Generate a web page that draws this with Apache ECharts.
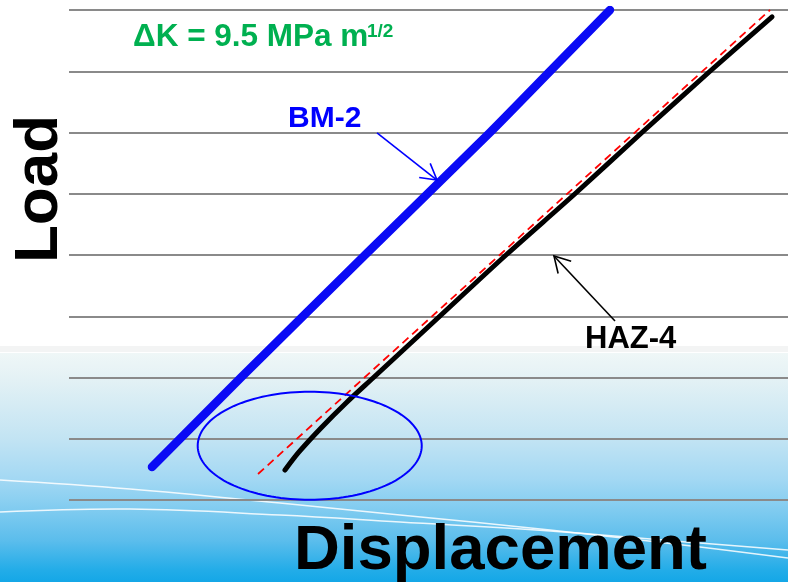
<!DOCTYPE html>
<html>
<head>
<meta charset="utf-8">
<script src="https://cdn.jsdelivr.net/npm/echarts@6/dist/echarts.min.js"></script>
<style>
  html, body { margin: 0; padding: 0; background: #ffffff; }
  #chart { width: 788px; height: 582px; }
</style>
</head>
<body>
<div id="chart"></div>
<script>
// Load–displacement records (arbitrary units: displacement 0–10, load 0–8)
const bmDisp  = [1.154, 2.392, 4.117, 5.855, 6.690, 7.524];
const bmLoad  = [0.539, 2.0,   4.0,   6.0,   7.0,   8.0];

const hazDisp = [3.004, 3.199, 3.505, 3.853, 4.228, 5.160, 6.078, 7.038, 7.969, 8.915, 9.778];
const hazLoad = [0.490, 0.784, 1.176, 1.584, 1.992, 3.004, 4.0,   5.0,   6.0,   7.0,   7.886];

// linear compliance fit drawn through the upper part of HAZ-4
const fitDisp = [2.629, 9.750];
const fitLoad = [0.424, 8.0];

// ellipse marking the non-linear toe: centre x, centre y, radius x, radius y
const toeRegion = [3.348, 0.885, 1.558, 0.882];

// label arrows: from x, from y, to x, to y
const bmArrow  = [4.284, 5.992, 5.118, 5.224];
const hazArrow = [7.594, 2.922, 6.745, 3.984];

const dispTicks = [0, 10];
const loadTicks = [0, 8, 1];   // min, max, step

const seriesNames = ['BM-2', 'HAZ-4'];

const FONT = "'Liberation Sans', Arial, Helvetica, sans-serif";

const zip = (xs, ys) => xs.map((x, i) => [x, ys[i]]);

const chart = echarts.init(document.getElementById('chart'), null, { renderer: 'canvas' });

const seaGradient = new echarts.graphic.LinearGradient(0, 0, 0, 1, [
  { offset: 0.00, color: '#eff7f7' },
  { offset: 0.10, color: '#e5f2f5' },
  { offset: 0.37, color: '#c3e4f3' },
  { offset: 0.55, color: '#a3d8f3' },
  { offset: 0.64, color: '#8cd0f1' },
  { offset: 0.82, color: '#5bbdec' },
  { offset: 0.95, color: '#22ace8' },
  { offset: 1.00, color: '#14a7e7' }
]);

const option = {
  animation: false,
  backgroundColor: '#ffffff',
  grid: { left: 69, right: 0, top: 10, bottom: 82, containLabel: false },
  xAxis: {
    type: 'value',
    min: dispTicks[0],
    max: dispTicks[1],
    show: false
  },
  yAxis: {
    type: 'value',
    min: loadTicks[0],
    max: loadTicks[1],
    interval: loadTicks[2],
    axisLine: { show: false },
    axisTick: { show: false },
    axisLabel: { show: false },
    splitLine: { show: true, lineStyle: { color: '#8a8a8a', width: 2 } }
  },
  graphic: [
    // pale sea band behind the lower part of the plot
    { type: 'rect', z: -20, silent: true, shape: { x: 0, y: 346, width: 788, height: 6 }, style: { fill: '#f3f4f4' } },
    { type: 'rect', z: -20, silent: true, shape: { x: 0, y: 353, width: 788, height: 229 }, style: { fill: seaGradient } },
    {
      type: 'polyline', z: -19, silent: true,
      shape: { points: [[0, 480], [130, 489], [280, 503], [400, 515], [550, 530], [700, 547], [788, 558]], smooth: 0.4 },
      style: { stroke: 'rgba(255,255,255,0.85)', lineWidth: 1.5, fill: 'none' }
    },
    {
      type: 'polyline', z: -19, silent: true,
      shape: { points: [[0, 512], [130, 509], [280, 515], [400, 522], [550, 531], [700, 543], [788, 550]], smooth: 0.4 },
      style: { stroke: 'rgba(255,255,255,0.85)', lineWidth: 1.5, fill: 'none' }
    },
    // axis titles
    {
      type: 'text', z: 50, x: 40, y: 189, rotation: Math.PI / 2,
      style: { text: 'Load', font: 'bold 62px ' + FONT, fill: '#000000', align: 'center', verticalAlign: 'middle' }
    },
    {
      type: 'text', z: 50, x: 294, y: 551,
      style: { text: 'Displacement', font: 'bold 63.5px ' + FONT, fill: '#000000', align: 'left', verticalAlign: 'middle' }
    },
    // stress intensity range
    {
      type: 'text', z: 50, x: 133, y: 37,
      style: { text: '\u0394K = 9.5 MPa m', font: 'bold 31.5px ' + FONT, fill: '#00b050', align: 'left', verticalAlign: 'middle' }
    },
    {
      type: 'text', z: 50, x: 367, y: 32,
      style: { text: '1/2', font: 'bold 19px ' + FONT, fill: '#00b050', align: 'left', verticalAlign: 'middle' }
    },
    // series labels
    {
      type: 'text', z: 50, x: 288, y: 119,
      style: { text: seriesNames[0], font: 'bold 30px ' + FONT, fill: '#0000ff', align: 'left', verticalAlign: 'middle' }
    },
    {
      type: 'text', z: 50, x: 585, y: 339,
      style: { text: seriesNames[1], font: 'bold 31px ' + FONT, fill: '#000000', align: 'left', verticalAlign: 'middle' }
    }
  ],
  series: [
    {
      name: seriesNames[0],
      type: 'line',
      data: zip(bmDisp, bmLoad),
      showSymbol: false,
      smooth: 0.2,
      z: 3,
      lineStyle: { color: '#0a0af5', width: 8.5, cap: 'round', join: 'round' }
    },
    {
      name: seriesNames[1],
      type: 'line',
      data: zip(hazDisp, hazLoad),
      showSymbol: false,
      smooth: 0.3,
      z: 3,
      lineStyle: { color: '#000000', width: 5, cap: 'round', join: 'round' }
    },
    {
      name: 'fit',
      type: 'line',
      data: zip(fitDisp, fitLoad),
      showSymbol: false,
      z: 4,
      lineStyle: { color: '#ff0000', width: 1.8, type: [8, 5] }
    },
    {
      name: 'toe',
      type: 'custom',
      silent: true,
      z: 5,
      data: [toeRegion],
      renderItem: function (params, api) {
        const c = api.coord([api.value(0), api.value(1)]);
        const s = api.size([api.value(2), api.value(3)]);
        const pts = [];
        for (let i = 0; i <= 144; i++) {
          const t = (i / 144) * Math.PI * 2;
          pts.push([c[0] + s[0] * Math.cos(t), c[1] + s[1] * Math.sin(t)]);
        }
        return {
          type: 'polygon',
          shape: { points: pts },
          style: { fill: 'none', stroke: '#0000ff', lineWidth: 2 }
        };
      }
    },
    {
      name: 'arrows',
      type: 'custom',
      silent: true,
      z: 6,
      data: [bmArrow.concat([0]), hazArrow.concat([1])],
      renderItem: function (params, api) {
        const col = api.value(4) === 0 ? '#0000ff' : '#000000';
        const p1 = api.coord([api.value(0), api.value(1)]);
        const p2 = api.coord([api.value(2), api.value(3)]);
        const ang = Math.atan2(p2[1] - p1[1], p2[0] - p1[0]);
        const len = 18, half = 0.52;
        const a1 = [p2[0] - len * Math.cos(ang - half), p2[1] - len * Math.sin(ang - half)];
        const a2 = [p2[0] - len * Math.cos(ang + half), p2[1] - len * Math.sin(ang + half)];
        return {
          type: 'group',
          children: [
            { type: 'line', shape: { x1: p1[0], y1: p1[1], x2: p2[0], y2: p2[1] }, style: { stroke: col, lineWidth: 1.6 } },
            { type: 'polyline', shape: { points: [a1, p2, a2] }, style: { stroke: col, fill: 'none', lineWidth: 1.6 } }
          ]
        };
      }
    }
  ]
};

chart.setOption(option);
</script>
</body>
</html>
